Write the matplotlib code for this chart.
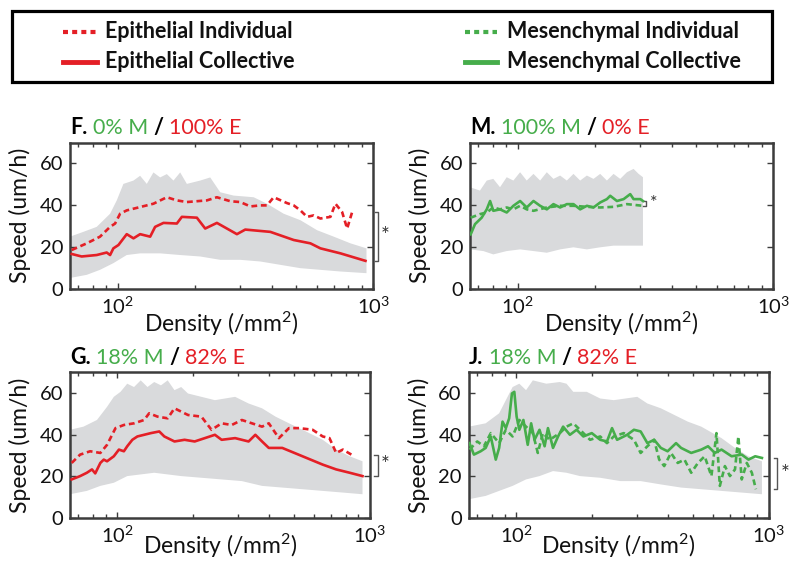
import numpy as np
import matplotlib
matplotlib.use('Agg')
import matplotlib.pyplot as plt
import matplotlib.ticker as mticker
import matplotlib.transforms as mtransforms
from matplotlib.lines import Line2D
from matplotlib.patches import Rectangle

plt.rcParams['font.family'] = ['Lato', 'DejaVu Sans']
plt.rcParams['mathtext.fontset'] = 'custom'
plt.rcParams['mathtext.rm'] = 'Lato'
plt.rcParams['mathtext.it'] = 'Lato:italic'
plt.rcParams['mathtext.bf'] = 'Lato:bold'

RED = '#e41f26'
GREEN = '#46ad4b'
GRAY = '#d9dadc'
AXC = '#3c3c3c'

# ---- panel F: 0% M / 100% E ----
F_up_d = [65.0, 73.3, 82.7, 93.3, 99.1, 105.2, 115.2, 122.3, 129.9, 137.9, 146.5, 155.6, 165.2, 175.5,
          186.4, 210.2, 230.1, 251.8, 284.0, 340.4, 383.9, 446.1, 518.7, 602.8, 700.9, 814.7, 941.3]
F_up_v = [24.9, 27.2, 29.6, 35.9, 42.3, 50.2, 51.8, 54.1, 50.2, 55.7, 53.3, 54.9, 51.8, 55.7,
          50.2, 51.8, 53.3, 46.2, 44.6, 43.8, 40.7, 35.9, 32.8, 28.0, 24.9, 21.7, 19.3]
F_lo_d = [65.0, 75.6, 85.2, 96.1, 108.4, 122.3, 146.5, 175.5, 210.2, 251.8, 301.7, 361.4, 432.8,
          518.7, 621.3, 744.3, 941.3]
F_lo_v = [5.1, 6.6, 9.0, 12.2, 16.1, 16.9, 16.9, 16.1, 15.4, 13.8, 13.8, 13.0, 11.4, 9.8, 9.0, 8.2, 7.4]
F_col_d = [66.0, 72.2, 82.7, 90.5, 93.3, 96.1, 100.6, 108.4, 115.2, 122.3, 133.9, 140.0, 151.0, 170.3,
           178.2, 204.0, 219.9, 244.4, 292.7, 315.6, 395.6, 488.4, 567.7, 621.3, 744.3, 932.9]
F_col_v = [16.6, 15.4, 16.1, 17.3, 16.1, 19.3, 20.9, 26.1, 24.1, 26.1, 24.9, 29.6, 31.5, 31.2,
           34.4, 34.0, 28.8, 31.5, 26.1, 28.3, 27.2, 23.3, 21.7, 19.3, 16.9, 13.3]
F_ind_d = [66.0, 75.6, 85.2, 93.3, 97.6, 102.1, 108.4, 122.3, 137.9, 155.6, 170.3, 186.4, 223.3, 244.4,
           275.6, 301.7, 330.3, 361.4, 383.9, 407.7, 459.8, 488.4, 518.7, 550.8, 584.9, 621.3, 680.0,
           711.4, 755.7, 790.6, 827.1]
F_ind_v = [18.5, 21.7, 24.9, 29.6, 31.2, 35.9, 37.5, 39.1, 40.7, 43.8, 42.3, 41.5, 42.3, 43.8,
           41.9, 41.5, 39.4, 39.9, 39.9, 43.8, 41.0, 39.9, 37.5, 34.4, 35.1, 33.6, 34.4,
           40.7, 36.7, 28.8, 36.7]

# ---- panel M: 100% M / 0% E ----
M_up_d = [65.0, 71.1, 75.6, 80.2, 85.2, 90.5, 96.1, 102.1, 108.4, 115.2, 122.3, 129.9, 137.9, 146.5,
          155.6, 165.2, 175.5, 186.4, 197.9, 210.2, 223.3, 237.1, 251.8, 267.5, 284.0, 297.2, 309.1]
M_up_v = [48.6, 47.0, 51.8, 52.6, 48.6, 53.4, 51.8, 55.8, 51.8, 55.0, 51.8, 55.8, 52.6, 54.2,
          51.8, 55.0, 51.8, 54.2, 52.6, 55.0, 51.8, 55.0, 52.6, 55.8, 57.4, 55.0, 53.4]
M_lo_d = [65.0, 73.3, 80.2, 90.5, 102.1, 115.2, 129.9, 146.5, 165.2, 186.4, 210.2, 237.1, 267.5, 309.1]
M_lo_v = [18.8, 18.0, 16.4, 18.0, 18.8, 18.0, 17.2, 18.8, 19.8, 18.8, 19.8, 20.6, 20.6, 20.6]
M_col_d = [65.4, 68.0, 72.2, 75.6, 77.9, 80.2, 85.2, 90.5, 96.1, 102.1, 108.4, 115.2, 122.3, 129.9,
           137.9, 146.5, 155.6, 165.2, 175.5, 186.4, 197.9, 210.2, 223.3, 230.1, 244.4, 259.6,
           275.6, 284.0, 301.7, 309.1]
M_col_v = [26.0, 30.9, 34.0, 38.0, 42.0, 37.3, 38.0, 36.5, 39.7, 42.0, 38.9, 42.0, 39.7, 38.0,
           40.5, 38.9, 40.5, 40.5, 38.0, 39.7, 38.9, 41.3, 42.9, 44.5, 42.0, 42.9,
           45.3, 42.9, 42.9, 42.0]
M_ind_d = [65.4, 71.1, 75.6, 80.2, 85.2, 90.5, 96.1, 102.1, 108.4, 115.2, 129.9, 146.5, 165.2, 186.4,
           210.2, 237.1, 267.5, 309.1]
M_ind_v = [34.0, 35.7, 36.5, 38.9, 38.0, 38.9, 38.0, 39.7, 38.0, 37.3, 38.9, 39.7, 39.7, 39.2,
           38.9, 39.2, 40.5, 39.7]

# ---- panel G: 18% M / 82% E (epithelial) ----
G_up_d = [65.0, 73.5, 83.1, 91.1, 96.9, 103.0, 109.5, 116.5, 123.8, 131.7, 140.0, 148.9, 158.3, 168.4,
          179.0, 190.4, 215.2, 243.4, 292.6, 330.8, 374.0, 422.9, 478.1, 540.7, 650.0, 734.9, 831.0, 934.0]
G_up_v = [42.3, 43.8, 47.0, 53.3, 58.1, 60.5, 64.4, 62.8, 66.0, 62.8, 65.2, 63.6, 66.0, 61.3,
          62.8, 59.7, 58.1, 56.5, 58.1, 54.9, 52.6, 48.6, 45.4, 42.3, 37.5, 32.8, 29.6, 27.2]
G_lo_d = [65.0, 75.8, 85.7, 96.9, 109.5, 123.8, 140.0, 158.3, 179.0, 215.2, 258.8, 311.1, 374.0,
          449.7, 540.7, 650.0, 781.4, 934.0]
G_lo_v = [11.4, 13.0, 15.4, 16.9, 20.1, 20.9, 21.7, 20.9, 20.1, 19.3, 18.5, 17.7, 15.4,
          14.6, 13.8, 13.0, 12.2, 11.4]
G_col_d = [66.0, 71.3, 75.8, 79.4, 81.8, 85.7, 88.4, 91.1, 96.9, 101.5, 106.2, 109.5, 114.7, 120.1,
           127.7, 135.8, 146.6, 153.5, 168.4, 184.6, 202.4, 222.0, 243.4, 258.8, 292.6, 330.8,
           351.8, 374.0, 397.7, 449.7, 540.7, 650.0, 734.9, 831.0, 934.0]
G_col_v = [18.5, 20.1, 21.7, 23.3, 21.4, 26.4, 28.0, 27.2, 29.6, 32.8, 32.0, 34.4, 37.5, 39.1,
           39.9, 40.7, 41.5, 39.1, 36.7, 37.5, 36.7, 38.3, 39.9, 37.5, 38.3, 36.7,
           39.9, 36.7, 33.6, 33.6, 29.6, 25.6, 23.3, 21.7, 20.1]
G_ind_d = [66.0, 71.3, 78.1, 85.7, 91.1, 98.4, 106.2, 116.5, 127.7, 133.7, 144.4, 158.3, 168.4, 190.4,
           215.2, 236.0, 258.8, 283.7, 311.1, 341.1, 374.0, 397.7, 436.1, 478.1, 524.3, 592.8,
           650.0, 691.2, 734.9, 781.4, 843.9]
G_ind_v = [26.4, 30.4, 32.0, 31.2, 35.1, 43.1, 44.6, 45.4, 47.0, 50.2, 48.6, 47.8, 52.6, 49.4,
           48.6, 42.3, 45.4, 44.6, 47.0, 45.4, 43.8, 45.4, 38.3, 43.1, 43.1, 42.3,
           39.1, 38.3, 31.2, 32.8, 30.4]

# ---- panel J: 18% M / 82% E (mesenchymal) ----
J_up_d = [65.0, 75.8, 85.7, 91.1, 96.9, 103.0, 109.5, 116.5, 131.7, 148.9, 158.3, 168.4, 190.4, 215.2,
          243.4, 301.7, 330.8, 374.0, 422.9, 478.1, 540.7, 650.0, 734.9, 831.0, 939.4]
J_up_v = [43.8, 45.4, 50.2, 56.5, 62.8, 64.4, 61.3, 66.0, 64.4, 65.2, 64.4, 60.5, 60.5, 57.3,
          56.5, 58.1, 54.9, 52.6, 49.4, 46.2, 43.8, 38.3, 33.6, 29.6, 27.2]
J_lo_d = [65.0, 75.8, 85.7, 96.9, 109.5, 123.8, 140.0, 158.3, 179.0, 215.2, 258.8, 311.1, 374.0,
          449.7, 540.7, 650.0, 781.4, 939.4]
J_lo_v = [9.0, 10.6, 13.0, 15.4, 18.5, 20.1, 22.5, 21.7, 20.1, 19.3, 17.7, 17.7, 16.1,
          14.6, 13.8, 13.0, 12.2, 11.4]
J_col_d = [65.4, 68.1, 72.4, 75.8, 79.4, 83.1, 85.7, 88.4, 91.1, 93.9, 96.3, 98.4, 100.5, 103.0,
           106.9, 111.2, 114.7, 118.3, 123.8, 129.7, 133.7, 140.0, 146.6, 153.5, 163.3, 173.6,
           184.6, 199.3, 215.2, 228.9, 239.7, 251.0, 275.1, 292.6, 311.1, 330.8, 351.8, 374.0,
           397.7, 429.5, 449.7, 493.1, 540.7, 574.9, 611.3, 650.0, 712.7, 781.4, 831.0, 883.6, 939.4]
J_col_v = [35.9, 30.4, 32.0, 33.6, 39.1, 28.0, 33.6, 46.2, 43.1, 47.8, 59.7, 60.5, 48.6, 42.3,
           47.0, 35.1, 45.4, 37.5, 42.3, 34.4, 43.1, 33.6, 39.1, 43.8, 39.9, 42.3,
           39.1, 40.7, 37.5, 36.7, 43.1, 37.5, 39.9, 42.3, 41.5, 35.9, 37.5, 33.6,
           32.0, 35.9, 33.6, 31.2, 32.8, 34.4, 31.2, 32.8, 29.6, 30.4, 28.0, 29.6, 28.8]
J_ind_d = [65.4, 70.2, 74.6, 79.4, 85.7, 91.1, 96.9, 103.0, 109.5, 116.5, 121.9, 127.7, 135.8, 148.9,
           158.3, 168.4, 179.0, 196.3, 215.2, 228.9, 243.4, 266.8, 292.6, 311.1, 330.8, 351.8,
           368.4, 385.6, 410.1, 436.1, 463.7, 493.1, 524.3, 557.5, 592.8, 620.7, 640.1, 670.3,
           701.7, 734.9, 757.8, 781.4, 818.3, 856.9, 889.0]
J_ind_v = [32.8, 36.7, 34.4, 40.7, 35.9, 42.3, 39.1, 47.0, 43.8, 40.7, 31.2, 40.7, 37.5, 40.7,
           43.8, 45.4, 42.3, 37.5, 39.1, 35.9, 39.1, 40.7, 37.5, 31.2, 34.4, 37.5,
           28.0, 24.9, 31.2, 26.4, 28.0, 21.7, 26.4, 29.6, 20.1, 40.7, 15.4, 24.9,
           20.1, 23.3, 39.1, 18.5, 26.4, 21.7, 13.8]

legend_labels = ['Epithelial Individual', 'Epithelial Collective',
                 'Mesenchymal Individual', 'Mesenchymal Collective']


def draw_panel(ax, up_d, up_v, lo_d, lo_v, ind_d, ind_v, col_d, col_v, color):
    ax.fill(list(up_d) + list(lo_d[::-1]), list(up_v) + list(lo_v[::-1]), color=GRAY, lw=0, zorder=1)
    ax.plot(ind_d, ind_v, color=color, lw=1.9, dashes=(2.2, 1.4), zorder=3)
    ax.plot(col_d, col_v, color=color, lw=1.9, zorder=4)
    ax.set_xscale('log')
    ax.set_xlim(65, 1000)
    ax.set_ylim(0, 70)
    ax.set_yticks([0, 20, 40, 60])
    ax.xaxis.set_minor_formatter(mticker.NullFormatter())
    ax.tick_params(which='both', direction='in', top=True, right=True, color=AXC,
                   labelsize=14.5, labelcolor='#111111', width=1)
    ax.tick_params(which='major', length=4, pad=5)
    ax.tick_params(which='minor', length=3)
    for s in ax.spines.values():
        s.set_color(AXC)
        s.set_linewidth(1.8)
    ax.set_ylabel('Speed (um/h)', fontsize=16.5, color='#111111')
    ax.yaxis.set_label_coords(-0.13, 0.5)
    ax.set_xlabel('Density (/mm$^2$)', fontsize=16.5, color='#111111')


def title(ax, parts):
    s, c, w = parts[0]
    t = ax.text(0, 1.03, s, transform=ax.transAxes, color=c, fontsize=15.5, fontweight=w,
                va='bottom', ha='left')
    for s, c, w in parts[1:]:
        t = ax.annotate(s, xy=(1, 0), xycoords=t, xytext=(4, 0), textcoords='offset points',
                        color=c, fontsize=15.5, fontweight=w, va='bottom', ha='left')


def bracket(ax, x, y1, y2, xs):
    tr = mtransforms.blended_transform_factory(ax.transAxes, ax.transData)
    ax.add_line(Line2D([x - 0.01, x, x, x - 0.01], [y1, y1, y2, y2], transform=tr,
                       color='#555555', lw=1, clip_on=False))
    ax.text(xs, (y1 + y2) / 2, '*', transform=tr, fontsize=15, color='#333333',
            ha='center', va='center')


fig = plt.figure(figsize=(8, 5.67), dpi=100)

axF = fig.add_axes([0.0875, 0.491, 0.379, 0.2575])
axM = fig.add_axes([0.5875, 0.491, 0.379, 0.2575])
axG = fig.add_axes([0.0875, 0.0864, 0.375, 0.2575])
axJ = fig.add_axes([0.586, 0.0864, 0.375, 0.2575])

draw_panel(axF, F_up_d, F_up_v, F_lo_d, F_lo_v, F_ind_d, F_ind_v, F_col_d, F_col_v, RED)
draw_panel(axM, M_up_d, M_up_v, M_lo_d, M_lo_v, M_ind_d, M_ind_v, M_col_d, M_col_v, GREEN)
draw_panel(axG, G_up_d, G_up_v, G_lo_d, G_lo_v, G_ind_d, G_ind_v, G_col_d, G_col_v, RED)
draw_panel(axJ, J_up_d, J_up_v, J_lo_d, J_lo_v, J_ind_d, J_ind_v, J_col_d, J_col_v, GREEN)

for ax in (axF, axM):
    ax.xaxis.set_label_coords(0.5, -0.145)
for ax in (axG, axJ):
    ax.xaxis.set_label_coords(0.5, -0.095)

title(axF, [('F.', 'black', 'bold'), ('0% M', GREEN, 'normal'), ('/', 'black', 'bold'), ('100% E', RED, 'normal')])
title(axM, [('M.', 'black', 'bold'), ('100% M', GREEN, 'normal'), ('/', 'black', 'bold'), ('0% E', RED, 'normal')])
title(axG, [('G.', 'black', 'bold'), ('18% M', GREEN, 'normal'), ('/', 'black', 'bold'), ('82% E', RED, 'normal')])
title(axJ, [('J.', 'black', 'bold'), ('18% M', GREEN, 'normal'), ('/', 'black', 'bold'), ('82% E', RED, 'normal')])

# significance brackets (between the curve end values)
bracket(axF, 1.017, F_col_v[-1], F_ind_v[-1], 1.04)
bracket(axG, 1.025, G_col_v[-1], G_ind_v[-1], 1.05)
bracket(axJ, 1.027, J_ind_v[-1], J_col_v[-1], 1.055)
axM.add_line(Line2D([310, 318, 318, 310], [M_ind_v[-1], M_ind_v[-1], M_col_v[-1], M_col_v[-1]],
                    color='#555555', lw=1))
axM.text(340, (M_ind_v[-1] + M_col_v[-1]) / 2, '*', fontsize=13, color='#333333',
         ha='center', va='center')

# legend box on top
fig.add_artist(Rectangle((0.015, 0.8554), 0.95, 0.1252, transform=fig.transFigure,
                         fill=False, ec='black', lw=2.3))
rows = [0.9436, 0.8907]
for i, lab in enumerate(legend_labels):
    col = RED if i < 2 else GREEN
    x0, x1, xt = (0.079, 0.121, 0.131) if i < 2 else (0.581, 0.621, 0.634)
    y = rows[i % 2]
    if i % 2 == 0:
        fig.add_artist(Line2D([x0, x1], [y, y], transform=fig.transFigure, color=col, lw=3,
                              dashes=(1.2, 1.0)))
    else:
        fig.add_artist(Line2D([x0, x1], [y, y], transform=fig.transFigure, color=col, lw=3.5))
    fig.text(xt, y, lab, fontsize=15.5, fontweight='bold', va='center', ha='left', color='#111111')

fig.savefig('out.png', dpi=100)
